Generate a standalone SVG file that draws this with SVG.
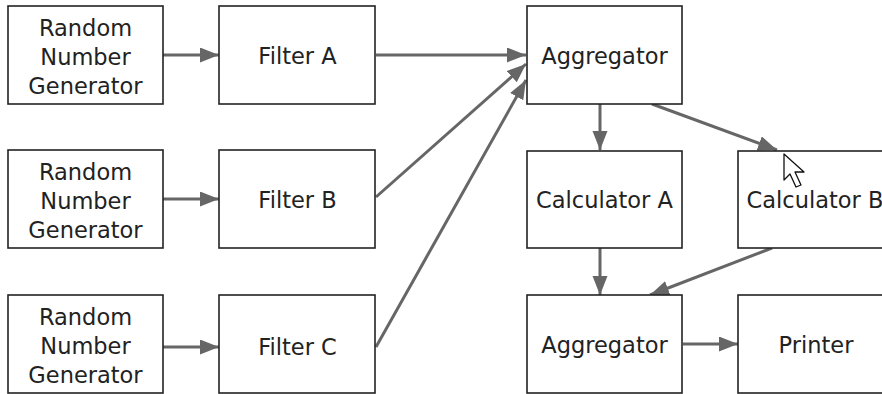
<svg xmlns="http://www.w3.org/2000/svg" width="882" height="394" viewBox="0 0 882 394">
<style>
.box{fill:#fff;stroke:#222;stroke-width:1.6}
.lbl{font-family:"DejaVu Sans",sans-serif;font-size:22.5px;fill:#222;text-anchor:middle}
.edge{stroke:#666;stroke-width:3;fill:none;marker-end:url(#ah)}
</style>
<defs>
<marker id="ah" markerUnits="userSpaceOnUse" markerWidth="20" markerHeight="16" refX="19" refY="7.5" orient="auto">
<path d="M0,0 L19,7.5 L0,15 z" fill="#666"/>
</marker>
</defs>
<rect width="882" height="394" fill="#fff"/>
<g id="connectors">
<line class="edge" x1="163" y1="55" x2="219" y2="55"/>
<line class="edge" x1="163" y1="199" x2="219" y2="199"/>
<line class="edge" x1="163" y1="347" x2="219" y2="347"/>
<line class="edge" x1="376" y1="55" x2="526" y2="55"/>
<line class="edge" x1="376" y1="197" x2="526" y2="64"/>
<line class="edge" x1="376" y1="347" x2="526" y2="80"/>
<line class="edge" x1="600" y1="104" x2="600" y2="150"/>
<line class="edge" x1="652" y1="104" x2="777" y2="150"/>
<line class="edge" x1="600" y1="248" x2="600" y2="295"/>
<line class="edge" x1="772" y1="248" x2="650" y2="295"/>
<line class="edge" x1="683" y1="344" x2="738" y2="344"/>
</g>
<g id="rng1"><rect class="box" x="8" y="6" width="155" height="98"/>
<text class="lbl" x="85.5" y="36">Random</text><text class="lbl" x="85.5" y="65">Number</text><text class="lbl" x="85.5" y="94">Generator</text></g>
<g id="rng2"><rect class="box" x="8" y="150" width="155" height="98"/>
<text class="lbl" x="85.5" y="180">Random</text><text class="lbl" x="85.5" y="209">Number</text><text class="lbl" x="85.5" y="238">Generator</text></g>
<g id="rng3"><rect class="box" x="8" y="295" width="155" height="98"/>
<text class="lbl" x="85.5" y="325">Random</text><text class="lbl" x="85.5" y="354">Number</text><text class="lbl" x="85.5" y="383">Generator</text></g>
<g id="filterA"><rect class="box" x="219" y="6" width="156" height="98"/><text class="lbl" x="297.5" y="64">Filter A</text></g>
<g id="filterB"><rect class="box" x="219" y="150" width="156" height="98"/><text class="lbl" x="297.5" y="208">Filter B</text></g>
<g id="filterC"><rect class="box" x="219" y="295" width="156" height="98"/><text class="lbl" x="297.5" y="355">Filter C</text></g>
<g id="aggregator1"><rect class="box" x="527" y="6" width="155" height="98"/><text class="lbl" x="604.5" y="64">Aggregator</text></g>
<g id="calculatorA"><rect class="box" x="527" y="151" width="155" height="97"/><text class="lbl" x="604.5" y="208">Calculator A</text></g>
<g id="calculatorB"><rect class="box" x="738" y="151" width="156" height="97"/><text class="lbl" x="815" y="208">Calculator B</text></g>
<g id="aggregator2"><rect class="box" x="527" y="295" width="155" height="98"/><text class="lbl" x="604.5" y="353">Aggregator</text></g>
<g id="printer"><rect class="box" x="738" y="295" width="156" height="98"/><text class="lbl" x="816" y="353">Printer</text></g>
<path d="M784,154 L784,180 L790,174 L796,187 L801,185 L795,172 L804,172 Z" fill="#fff" stroke="#111" stroke-width="1.3" stroke-linejoin="round"/>
</svg>
